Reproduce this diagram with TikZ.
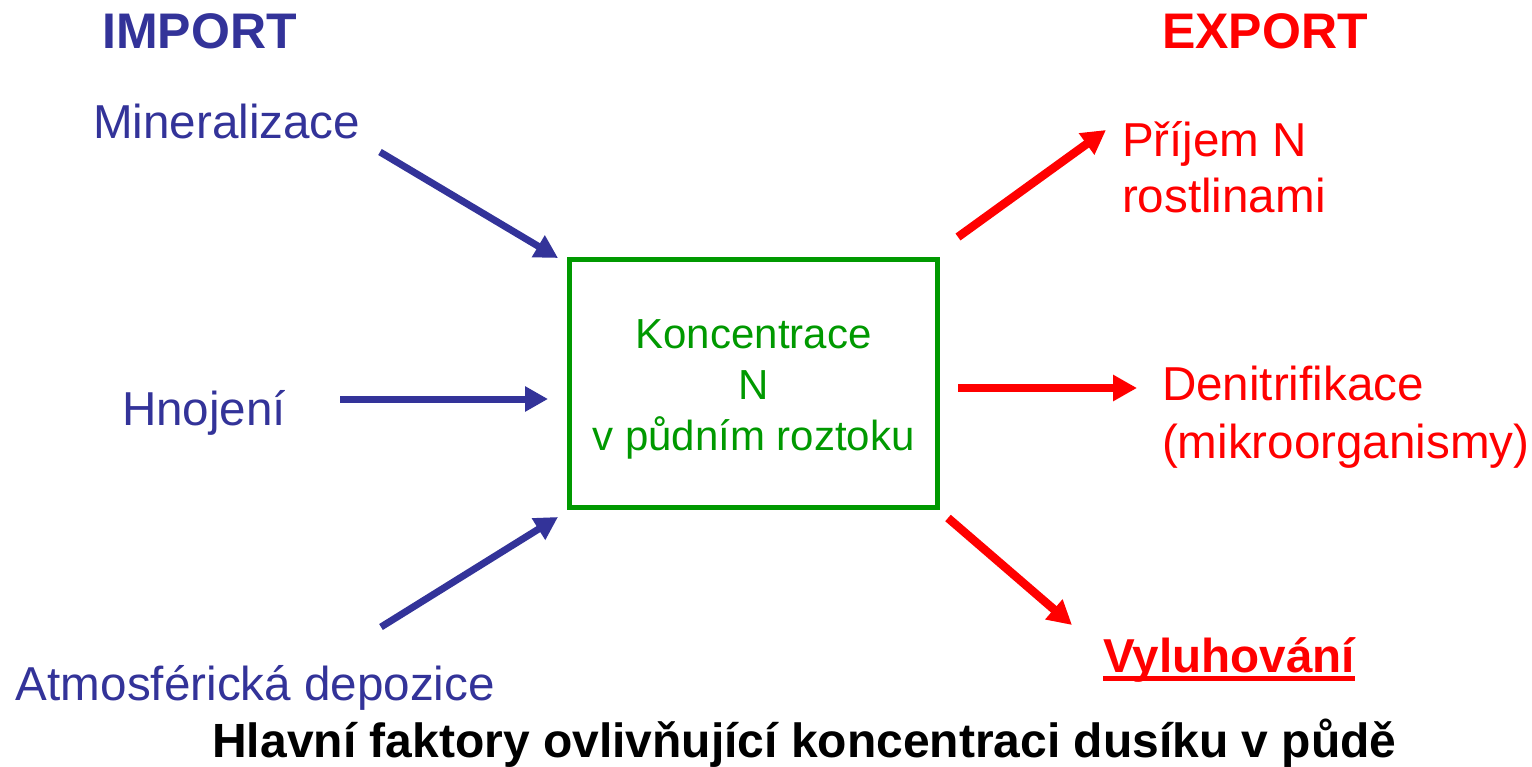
\documentclass[tikz,border=0pt]{standalone}
\usepackage{fontspec}
\setmainfont{Liberation Sans}
\usetikzlibrary{arrows.meta}
\definecolor{impblue}{HTML}{333399}
\definecolor{expred}{HTML}{FF0000}
\definecolor{boxgreen}{HTML}{009900}
\newcommand{\thickul}[1]{\setbox0\hbox{#1}\rlap{\rule[-9pt]{\wd0}{5pt}}\box0}
\begin{document}
\begin{tikzpicture}[x=1pt,y=-1pt,
  lbl/.style={font=\fontsize{47.6}{56}\selectfont, inner sep=0pt, outer sep=0pt, anchor=base west, align=left},
  imp/.style={lbl, text=impblue},
  exp/.style={lbl, text=expred},
  headtxt/.style={font=\fontsize{50}{60}\selectfont\bfseries, inner sep=0pt, anchor=base},
  inarrow/.style={draw=impblue, line width=7pt, -{Triangle[length=23pt,width=24pt]}},
  outarrow/.style={draw=expred, line width=8.5pt, -{Triangle[length=24pt,width=25pt]}},
]
\useasboundingbox[fill=white] (0,0) rectangle (1532,767);

% headings
\node[headtxt, text=impblue] (import) at (199.5,49) {IMPORT};
\node[headtxt, text=expred] (export) at (1265,49) {EXPORT};

% central box
\node[draw=boxgreen, line width=5pt, minimum width=368pt, minimum height=247pt,
      inner sep=0pt] (box) at (753.5,383.5) {};
\node[text=boxgreen, align=center, inner sep=0pt, anchor=base,
      font=\fontsize{42}{51}\selectfont] (boxtext) at (753.5,450)
      {Koncentrace\\N\\v půdním roztoku};

% import labels
\node[imp] (min) at (93,139) {Mineralizace};
\node[imp] (hno) at (122,425) {Hnojení};
\node[imp] (atm) at (16,700) {Atmosférická depozice};

% export labels (base anchor = last line)
\node[exp, font=\fontsize{47.6}{56}\selectfont] (prij) at (1122,213) {Příjem N\\rostlinami};
\node[exp, font=\fontsize{47.6}{58}\selectfont] (den) at (1162,458) {Denitrifikace\\(mikroorganismy)};
\node[exp, font=\fontsize{47.6}{56}\selectfont\bfseries] (vyl) at (1103,672) {\thickul{Vyluhování}};

% title
\node[font=\fontsize{48}{56}\selectfont\bfseries, inner sep=0pt, anchor=base] (title) at (804.5,757)
  {Hlavní faktory ovlivňující koncentraci dusíku v půdě};

% arrow end points
\coordinate (mintail) at (380,152);
\coordinate (minhead) at (558,258);
\coordinate (hnotail) at (340,399);
\coordinate (hnohead) at (548,399);
\coordinate (atmtail) at (381,627);
\coordinate (atmhead) at (558,517);
\coordinate (prijtail) at (958,237);
\coordinate (prijhead) at (1106,130);
\coordinate (dentail) at (958,388);
\coordinate (denhead) at (1137,388);
\coordinate (vyltail) at (948,518);
\coordinate (vylhead) at (1072,625);

\draw[inarrow] (mintail) -- (minhead);
\draw[inarrow] (hnotail) -- (hnohead);
\draw[inarrow] (atmtail) -- (atmhead);
\draw[outarrow] (prijtail) -- (prijhead);
\draw[outarrow] (dentail) -- (denhead);
\draw[outarrow] (vyltail) -- (vylhead);
\end{tikzpicture}
\end{document}
